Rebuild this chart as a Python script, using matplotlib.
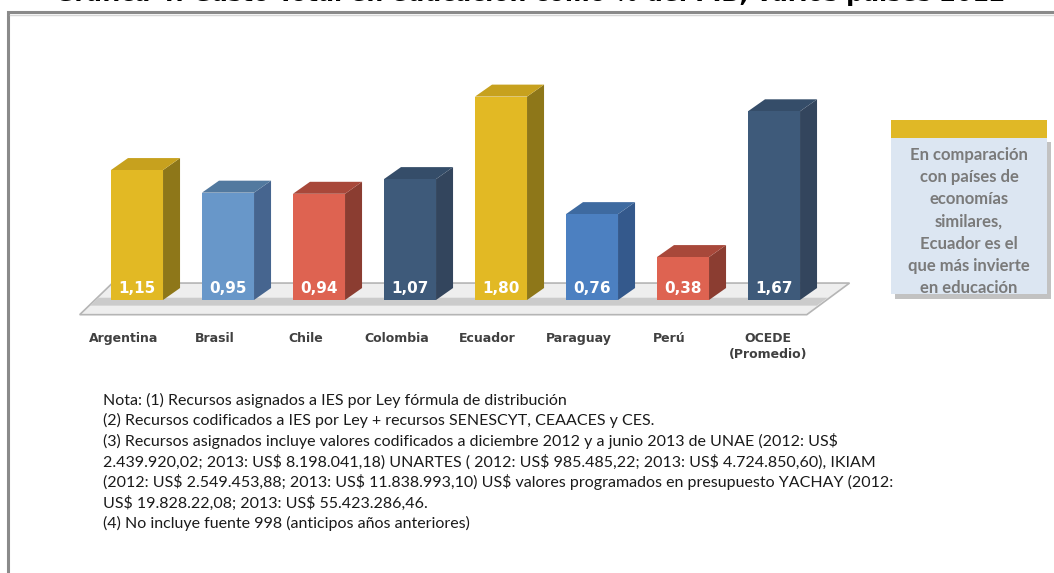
import matplotlib
matplotlib.use("Agg")
import matplotlib.pyplot as plt
from matplotlib.patches import Polygon, Rectangle

# data
paises = ['Argentina', 'Brasil', 'Chile', 'Colombia', 'Ecuador', 'Paraguay', 'Perú', 'OCEDE\n(Promedio)']
valores = [1.15, 0.95, 0.94, 1.07, 1.80, 0.76, 0.38, 1.67]
etiquetas = ['1,15', '0,95', '0,94', '1,07', '1,80', '0,76', '0,38', '1,67']

# (front, side, top) colours
amarillo = ('#E2B924', '#8E7719', '#C7A11E')
celeste = ('#6897C9', '#46658F', '#52799F')
rojo = ('#DE6351', '#8B3D31', '#A8483A')
marino = ('#3E5A7A', '#33455D', '#354D69')
azul = ('#4C80C1', '#34598C', '#3E6AA0')
colores = [amarillo, celeste, rojo, marino, amarillo, azul, rojo, marino]

titulo = 'Gráfica 4: Gasto Total en educación como % del PIB, varios países 2012'
recuadro = ['En comparación', 'con países de', 'economías', 'similares,',
            'Ecuador es el', 'que más invierte', 'en educación']
notas = [
    'Nota: (1) Recursos asignados a IES por Ley fórmula de distribución',
    '(2) Recursos codificados a IES por Ley + recursos SENESCYT, CEAACES y CES.',
    '(3) Recursos asignados incluye valores codificados a diciembre 2012 y a junio 2013 de UNAE (2012: US$',
    '2.439.920,02; 2013: US$ 8.198.041,18) UNARTES ( 2012: US$ 985.485,22; 2013: US$ 4.724.850,60), IKIAM',
    '(2012: US$ 2.549.453,88; 2013: US$ 11.838.993,10) US$ valores programados en presupuesto YACHAY (2012:',
    'US$ 19.828.22,08; 2013: US$ 55.423.286,46.',
    '(4) No incluye fuente 998 (anticipos años anteriores)',
]

W, H = 1054, 573
fig = plt.figure(figsize=(W / 100, H / 100), dpi=100)
fig.patch.set_facecolor('white')

# background axes in pixel units for frame, box and notes
bg = fig.add_axes([0, 0, 1, 1])
bg.set_xlim(0, W)
bg.set_ylim(H, 0)
bg.axis('off')

# title is cut off by the top edge in the original
bg.text(530, 1.5, titulo, ha='center', va='baseline', fontsize=17, fontweight='bold',
        color='black', clip_on=False)
bg.plot([8, 8, W], [H, 12, 12], color='#8a8a8a', lw=2.2, solid_joinstyle='miter')
bg.plot([10, W], [14.5, 14.5], color='#d6d6d6', lw=1)

# side box
bg.add_patch(Rectangle((895, 142), 156, 157, facecolor='#9a9a9a', edgecolor='none', alpha=0.6))
bg.add_patch(Rectangle((891, 138), 156, 156, facecolor='#DCE6F2', edgecolor='none'))
bg.add_patch(Rectangle((891, 120), 156, 18, facecolor='#E0B826', edgecolor='none'))
for i, linea in enumerate(recuadro):
    bg.text(969, 155 + i * 22.2, linea, ha='center', va='center', fontsize=12,
            fontweight='bold', color='#7A7A7A', family='Lato')

for i, linea in enumerate(notas):
    bg.text(103, 400 + i * 20.6, linea, ha='left', va='center', fontsize=11.5,
            color='#1a1a1a', family='Lato', parse_math=False)

# data axes: x = category index, y = value
ax = fig.add_axes([46 / W, (H - 356.5) / H, (865 - 46) / W, (356.5 - 51.4) / H])
ax.set_xlim(-1, 8)
ax.set_ylim(-0.5, 2.2)
ax.axis('off')

hw = 0.286   # half bar width
dx = 0.187   # depth offset in x
dy = 0.106   # depth offset in y

# floor slab
piso = [(-0.63, -0.13), (7.36, -0.13), (7.83, 0.15), (-0.27, 0.15)]
ax.add_patch(Polygon(piso, closed=True, facecolor='#eeeeee', edgecolor='#b5b5b5', lw=1.2, clip_on=False))
sombra = [(-0.52, -0.05), (7.47, -0.05), (7.59, 0.02), (-0.42, 0.02)]
ax.add_patch(Polygon(sombra, closed=True, facecolor='#cbcbcb', edgecolor='none', clip_on=False))

for i, (v, (cf, cs, ct)) in enumerate(zip(valores, colores)):
    x0, x1 = i - hw, i + hw
    lado = [(x1, 0), (x1 + dx, dy), (x1 + dx, v + dy), (x1, v)]
    tapa = [(x0, v), (x1, v), (x1 + dx, v + dy), (x0 + dx, v + dy)]
    ax.add_patch(Polygon(lado, closed=True, facecolor=cs, edgecolor='none'))
    ax.add_patch(Polygon(tapa, closed=True, facecolor=ct, edgecolor='none'))
    ax.add_patch(Rectangle((x0, 0), 2 * hw, v, facecolor=cf, edgecolor='none'))
    ax.text(i, 0.105, etiquetas[i], ha='center', va='center', fontsize=11,
            fontweight='bold', color='white')
    ax.text(i - 0.15 + (0.08 if '\n' in paises[i] else 0), -0.28, paises[i], ha='center',
            va='top', fontsize=9, fontweight='bold', color='#404040', linespacing=1.35)

fig.savefig('out.png', dpi=100)
